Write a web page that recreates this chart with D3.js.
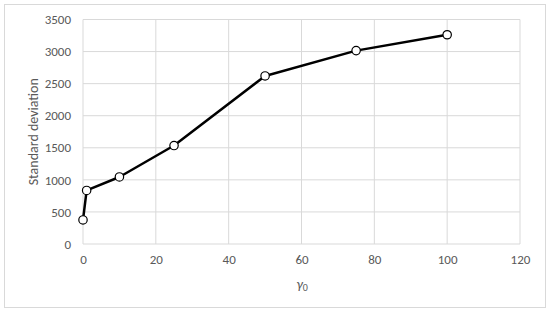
<!DOCTYPE html>
<html>
<head>
<meta charset="utf-8">
<script src="https://cdn.jsdelivr.net/npm/d3@7"></script>
<style>
  body { margin: 0; background: #fff; }
  svg { display: block; }
  .tick text { font-family: Carlito, "Liberation Sans", "Open Sans", sans-serif; font-size: 13px; fill: #595959; }
</style>
</head>
<body>
<svg id="chart" width="550" height="313"></svg>
<script>
const gammaValues = [0, 1, 10, 25, 50, 75, 100];
const stdValues = [375, 835, 1045, 1535, 2620, 3015, 3262];
const xTicks = [0, 20, 40, 60, 80, 100, 120];
const yTicks = [0, 500, 1000, 1500, 2000, 2500, 3000, 3500];

const svg = d3.select('#chart');
const width = 550;
const height = 313;
const margin = { top: 19.5, right: 30, bottom: 69, left: 83 };

// outer chart frame
svg.append('rect')
    .attr('x', 4.5).attr('y', 4.5)
    .attr('width', 541).attr('height', 303)
    .attr('fill', '#fff')
    .attr('stroke', '#d9d9d9');

const x = d3.scaleLinear()
    .domain([0, 120])
    .range([margin.left, width - margin.right]);

const y = d3.scaleLinear()
    .domain([0, 3500])
    .range([height - margin.bottom, margin.top]);

// gridlines
svg.append('g')
    .selectAll('line.h')
    .data(yTicks)
    .join('line')
    .attr('x1', x(0)).attr('x2', x(120))
    .attr('y1', d => y(d)).attr('y2', d => y(d))
    .attr('stroke', '#d9d9d9');

svg.append('g')
    .selectAll('line.v')
    .data(xTicks)
    .join('line')
    .attr('x1', d => x(d)).attr('x2', d => x(d))
    .attr('y1', y(0)).attr('y2', y(3500))
    .attr('stroke', '#d9d9d9');

// axes (labels only)
const xAxis = svg.append('g')
    .attr('transform', `translate(0,${y(0)})`)
    .call(d3.axisBottom(x).tickValues(xTicks).tickFormat(d3.format('d')).tickSize(0).tickPadding(11));
xAxis.select('.domain').remove();

const yAxis = svg.append('g')
    .attr('transform', `translate(${x(0)},0)`)
    .call(d3.axisLeft(y).tickValues(yTicks).tickFormat(d3.format('d')).tickSize(0).tickPadding(12));
yAxis.select('.domain').remove();

// axis titles
svg.append('text')
    .attr('transform', `translate(38,${(y(0) + y(3500)) / 2}) rotate(-90)`)
    .attr('text-anchor', 'middle')
    .attr('font-family', 'Carlito, "Liberation Sans", "Open Sans", sans-serif')
    .attr('font-size', 14)
    .attr('fill', '#595959')
    .text('Standard deviation');

const xTitle = svg.append('text')
    .attr('x', x(60) - 5)
    .attr('y', 289)
    .attr('font-family', 'Carlito, "Liberation Sans", "Open Sans", sans-serif')
    .attr('font-size', 14)
    .attr('fill', '#595959');
xTitle.append('tspan').attr('font-style', 'italic').text('γ');
xTitle.append('tspan').attr('font-size', 10).attr('dy', 2).text('0');

// series
const data = gammaValues.map((g, i) => ({ g, s: stdValues[i] }));

const line = d3.line()
    .x(d => x(d.g))
    .y(d => y(d.s));

svg.append('path')
    .datum(data)
    .attr('d', line)
    .attr('fill', 'none')
    .attr('stroke', '#000')
    .attr('stroke-width', 2.5)
    .attr('stroke-linejoin', 'round');

svg.append('g')
    .selectAll('circle')
    .data(data)
    .join('circle')
    .attr('cx', d => x(d.g))
    .attr('cy', d => y(d.s))
    .attr('r', 4.2)
    .attr('fill', '#fff')
    .attr('stroke', '#000')
    .attr('stroke-width', 1.2);
</script>
</body>
</html>
